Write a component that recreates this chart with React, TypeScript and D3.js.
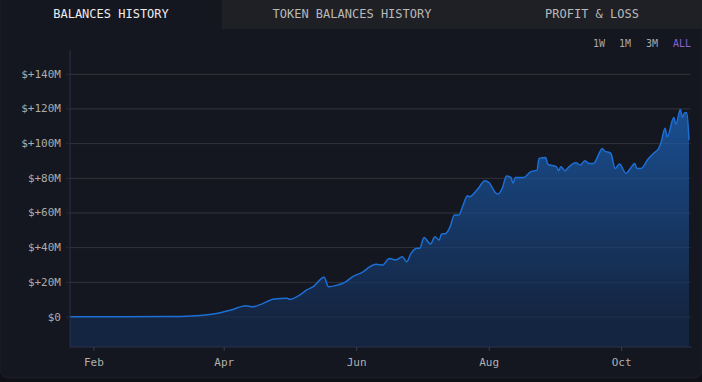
import React from "react";
import * as d3 from "d3";

const tabs = ["BALANCES HISTORY", "TOKEN BALANCES HISTORY", "PROFIT & LOSS"];
const ranges = ["1W", "1M", "3M", "ALL"];
const yTicks = [0, 20, 40, 60, 80, 100, 120, 140];
const xTickDates = ["2024-02-01", "2024-04-01", "2024-06-01", "2024-08-01", "2024-10-01"];

const dates = [
  "2024-01-21", "2024-02-13", "2024-03-12", "2024-03-21", "2024-03-27", "2024-04-04", "2024-04-11", "2024-04-14",
  "2024-04-18", "2024-04-24", "2024-04-30", "2024-05-01", "2024-05-06", "2024-05-09", "2024-05-12", "2024-05-17",
  "2024-05-19", "2024-05-23", "2024-05-27", "2024-05-30", "2024-06-04", "2024-06-06", "2024-06-10", "2024-06-13",
  "2024-06-16", "2024-06-19", "2024-06-22", "2024-06-24", "2024-06-26", "2024-06-29", "2024-06-30", "2024-07-02",
  "2024-07-05", "2024-07-07", "2024-07-09", "2024-07-10", "2024-07-12", "2024-07-14", "2024-07-16", "2024-07-18",
  "2024-07-20", "2024-07-22", "2024-07-23", "2024-07-25", "2024-07-27", "2024-07-30", "2024-08-01", "2024-08-04",
  "2024-08-05", "2024-08-07", "2024-08-09", "2024-08-11", "2024-08-12", "2024-08-13", "2024-08-17", "2024-08-20",
  "2024-08-23", "2024-08-24", "2024-08-27", "2024-08-28", "2024-09-01", "2024-09-02", "2024-09-03", "2024-09-05",
  "2024-09-06", "2024-09-10", "2024-09-12", "2024-09-14", "2024-09-16", "2024-09-18", "2024-09-21", "2024-09-22",
  "2024-09-23", "2024-09-26", "2024-09-28", "2024-09-30", "2024-10-03", "2024-10-05", "2024-10-07", "2024-10-08",
  "2024-10-10", "2024-10-13", "2024-10-16", "2024-10-18", "2024-10-19", "2024-10-21", "2024-10-22", "2024-10-25",
  "2024-10-26", "2024-10-28", "2024-10-29", "2024-10-30", "2024-10-31", "2024-11-01",
];

const balances = [
  0.1, 0.2, 0.3, 0.8, 1.7, 4.0, 6.5, 5.9,
  7.3, 10.4, 10.8, 10.2, 12.9, 15.6, 17.5, 22.9,
  17.5, 18.4, 20.3, 23.2, 26.1, 28.1, 30.4, 30.0,
  33.8, 32.9, 34.8, 31.9, 36.7, 39.6, 39.6, 45.9,
  42.1, 46.3, 44.4, 47.7, 48.2, 52.0, 58.8, 58.8,
  64.6, 69.9, 69.3, 71.3, 74.2, 78.6, 77.4, 71.6,
  70.9, 74.2, 81.3, 80.5, 77.1, 80.5, 80.5, 83.7,
  84.7, 91.5, 92.0, 88.2, 86.6, 84.3, 86.6, 84.3,
  85.7, 88.9, 87.6, 90.1, 88.6, 88.6, 95.3, 97.2,
  95.9, 94.4, 85.7, 88.2, 82.8, 85.7, 88.6, 85.7,
  85.7, 90.9, 94.7, 97.2, 100.1, 108.8, 103.9, 115.1,
  111.2, 119.7, 115.1, 117.8, 117.8, 102.0,
];

const W = 702;
const H = 382;
const plot = { left: 70, right: 689, top: 50, bottom: 347 };
const mono = "'DejaVu Sans Mono', 'Liberation Mono', monospace";

export default function App() {
  const parse = d3.utcParse("%Y-%m-%d");
  const data = dates.map((d, i) => ({ date: parse(d) as Date, value: balances[i] }));

  const x = d3
    .scaleUtc()
    .domain(d3.extent(data, (d) => d.date) as [Date, Date])
    .range([plot.left, plot.right]);
  const y = d3.scaleLinear().domain([-17.3, 154]).range([plot.bottom, plot.top]);

  const area = d3
    .area<{ date: Date; value: number }>()
    .x((d) => x(d.date))
    .y0(plot.bottom)
    .y1((d) => y(d.value))
    .curve(d3.curveMonotoneX);
  const line = d3
    .line<{ date: Date; value: number }>()
    .x((d) => x(d.date))
    .y((d) => y(d.value))
    .curve(d3.curveMonotoneX);

  const tabBounds = [
    [0, 222],
    [222, 482],
    [482, 702],
  ];
  const rangeX = [599, 625, 652, 682];

  return (
    <div style={{ position: "fixed", left: 0, top: 0, width: W, height: H }}>
      <svg width={W} height={H} style={{ display: "block" }}>
        <defs>
          <linearGradient id="areaGrad" gradientUnits="userSpaceOnUse" x1="0" y1={y(120)} x2="0" y2={y(0)}>
            <stop offset="0%" stopColor="#1a4f91" />
            <stop offset="100%" stopColor="#142541" />
          </linearGradient>
        </defs>
        <rect x={0} y={0} width={W} height={H} fill="#0e1016" />
        <rect x={0} y={-10} width={W} height={388} rx={8} fill="#141720" stroke="#1c1f29" strokeWidth={1} />
        {tabBounds.map(([a, b], i) => (
          <g key={tabs[i]}>
            {i > 0 && <rect x={a} y={0} width={b - a} height={29} fill="#1f2025" />}
            <text
              x={(a + b) / 2}
              y={14}
              textAnchor="middle"
              dominantBaseline="central"
              fontFamily={mono}
              fontSize={12}
              fill={i === 0 ? "#ececec" : "#b9b9b9"}
            >
              {tabs[i]}
            </text>
          </g>
        ))}
        {ranges.map((r, i) => (
          <text
            key={r}
            x={rangeX[i]}
            y={43}
            textAnchor="middle"
            dominantBaseline="central"
            fontFamily={mono}
            fontSize={10}
            fill={r === "ALL" ? "#8a63d2" : "#a9a9a9"}
          >
            {r}
          </text>
        ))}
        {yTicks.map((t) => (
          <g key={t}>
            <line x1={66} x2={691} y1={y(t)} y2={y(t)} stroke="#2a2b31" strokeWidth={1} />
            <text
              x={61}
              y={y(t)}
              textAnchor="end"
              dominantBaseline="central"
              fontFamily={mono}
              fontSize={11}
              fill="#acacac"
            >
              {t === 0 ? "$0" : `$+${t}M`}
            </text>
          </g>
        ))}
        <path d={area(data) ?? ""} fill="url(#areaGrad)" />
        {yTicks.map((t) => (
          <line key={"g" + t} x1={plot.left} x2={plot.right} y1={y(t)} y2={y(t)} stroke="#ffffff" strokeOpacity={0.05} />
        ))}
        <path d={line(data) ?? ""} fill="none" stroke="#1b6fd6" strokeWidth={1.5} />
        <line x1={plot.left} x2={plot.left} y1={plot.top} y2={plot.bottom} stroke="#2c2f4b" />
        <line x1={plot.left} x2={692} y1={plot.bottom} y2={plot.bottom} stroke="#2c2f4b" />
        {xTickDates.map((d) => {
          const xv = x(parse(d) as Date);
          return (
            <g key={d}>
              <line x1={xv} x2={xv} y1={plot.bottom} y2={plot.bottom + 4} stroke="#3a3c50" />
              <text
                x={xv}
                y={362}
                textAnchor="middle"
                dominantBaseline="central"
                fontFamily={mono}
                fontSize={11}
                fill="#b0b0b0"
              >
                {d3.utcFormat("%b")(parse(d) as Date)}
              </text>
            </g>
          );
        })}
      </svg>
    </div>
  );
}
